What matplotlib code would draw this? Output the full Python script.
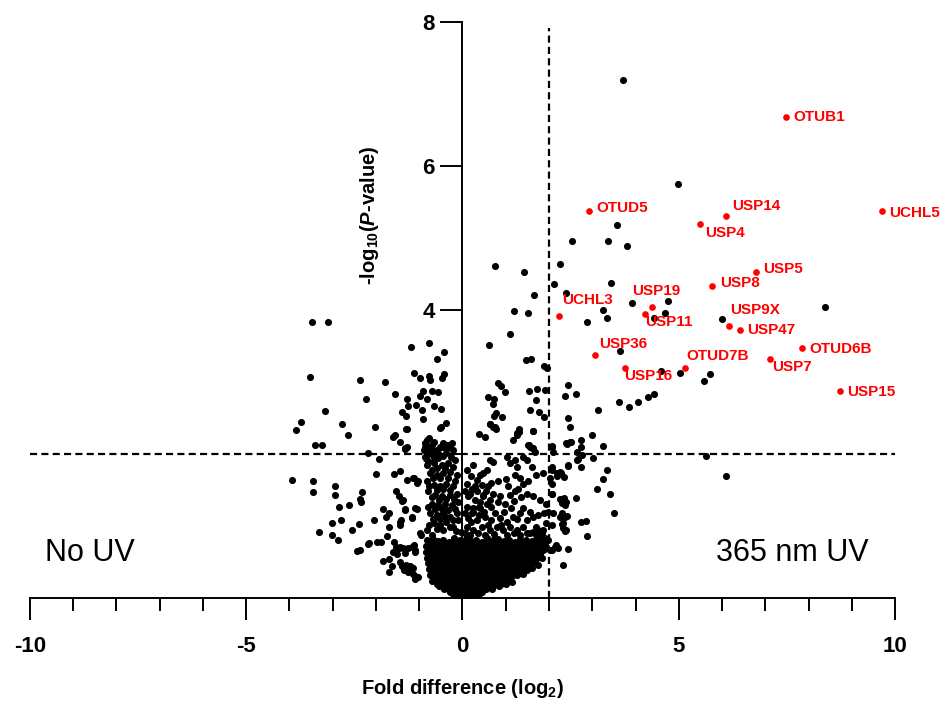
import matplotlib
matplotlib.use("Agg")
import matplotlib.pyplot as plt

plt.rcParams['font.family'] = ['Liberation Sans', 'DejaVu Sans']
plt.rcParams['axes.unicode_minus'] = False
plt.rcParams['mathtext.fontset'] = 'custom'
plt.rcParams['mathtext.rm'] = 'Liberation Sans:bold'
plt.rcParams['mathtext.bf'] = 'Liberation Sans:bold'
plt.rcParams['mathtext.it'] = 'Liberation Sans:bold:italic'

# cut-offs (log2 fold change, -log10 p)
fc_cut = 2
p_cut = 2

# labelled deubiquitinases (red)
dub_names = ['OTUB1', 'OTUD5', 'USP14', 'USP4', 'UCHL5', 'USP5', 'USP8', 'USP19',
             'USP11', 'UCHL3', 'USP9X', 'USP47', 'OTUD6B', 'USP36', 'USP7',
             'OTUD7B', 'USP16', 'USP15']
dub_fc = [7.49, 2.93, 6.09, 5.49, 9.70, 6.78, 5.77, 4.37,
          4.21, 2.24, 6.16, 6.42, 7.85, 3.07, 7.10,
          5.14, 3.76, 8.73]
dub_logp = [6.68, 5.37, 5.31, 5.20, 5.38, 4.53, 4.34, 4.04,
            3.94, 3.91, 3.78, 3.72, 3.47, 3.37, 3.32,
            3.19, 3.20, 2.87]

pts_upper = [(3.70, 7.19), (4.99, 5.75), (3.57, 5.18), (2.53, 4.96), (3.37, 4.96), (3.80, 4.89),
             (2.26, 4.64), (2.11, 4.36), (3.43, 4.37), (2.39, 4.24), (3.91, 4.10), (4.76, 4.13),
             (3.25, 4.00), (4.68, 3.96), (3.33, 3.89), (2.88, 3.84), (4.43, 3.89), (5.99, 3.87),
             (8.37, 4.04), (3.64, 3.43), (4.58, 3.15), (5.02, 3.13), (5.59, 3.01), (5.72, 3.11),
             (2.44, 2.96), (2.37, 2.80), (2.63, 2.83), (3.61, 2.72), (3.85, 2.65), (4.06, 2.72),
             (4.29, 2.79), (4.43, 2.83), (3.13, 2.61)]

pts_right = [(2.44, 2.50), (2.49, 2.38), (3.00, 2.27), (2.73, 2.20), (2.50, 2.17), (2.41, 2.14),
             (3.25, 2.11), (2.75, 2.10), (2.08, 2.11), (2.65, 2.03), (2.77, 1.98), (3.02, 1.94),
             (2.67, 1.93), (5.62, 1.97), (2.44, 1.83), (2.74, 1.82), (3.34, 1.78), (6.09, 1.69),
             (2.06, 1.78), (2.19, 1.69), (2.27, 1.73), (2.34, 1.68), (3.24, 1.65), (2.08, 1.59),
             (3.11, 1.52), (2.08, 1.44), (3.42, 1.45), (2.25, 1.37), (2.34, 1.39), (2.62, 1.39),
             (2.36, 1.29), (2.10, 1.18), (2.28, 1.14), (2.42, 1.14), (3.50, 1.18), (2.31, 1.03),
             (2.75, 1.05), (2.85, 1.07), (2.36, 0.93), (2.89, 0.86), (2.33, 0.46), (2.44, 0.68),
             (2.02, 0.67), (2.14, 0.71), (2.21, 0.69), (2.25, 1.13), (2.37, 1.13), (2.33, 0.97),
             (2.29, 1.32), (2.06, 1.82), (2.18, 1.73), (2.25, 1.75), (2.44, 1.85), (2.64, 1.92),
             (2.02, 1.66), (2.06, 1.45), (1.98, 1.20), (2.06, 1.01), (1.98, 0.81), (2.40, 2.15),
             (2.48, 2.17), (2.06, 2.10), (2.10, 2.03), (2.33, 1.38), (2.40, 1.34), (2.29, 1.18),
             (2.33, 1.04), (2.40, 0.94), (2.17, 0.74), (2.06, 0.67)]

pts_mid = [(0.75, 4.61), (1.42, 4.53), (1.66, 4.21), (1.19, 3.98), (1.51, 3.96), (1.10, 3.66),
           (0.61, 3.52), (1.47, 3.30), (1.59, 3.32), (1.88, 3.22), (1.96, 3.19), (0.83, 2.99),
           (0.88, 2.95), (0.98, 2.86), (0.58, 2.79), (0.72, 2.76), (0.71, 2.69), (0.77, 2.57),
           (0.73, 2.53), (0.92, 2.51), (1.54, 2.87), (1.73, 2.90), (1.91, 2.89), (1.71, 2.75),
           (1.56, 2.61), (1.77, 2.59), (1.88, 2.52), (0.64, 2.41), (0.71, 2.37), (0.77, 2.35),
           (0.38, 2.28), (0.51, 2.23), (1.31, 2.35), (1.27, 2.29), (1.17, 2.19), (1.63, 2.32),
           (1.53, 2.13), (1.64, 2.09), (0.63, 2.42), (0.75, 2.38), (1.25, 2.26), (1.30, 2.31),
           (1.62, 2.32), (1.52, 2.13), (1.60, 2.08), (1.67, 2.03), (1.56, 2.10),
           (0.63, 1.92), (0.71, 1.89), (0.40, 1.71), (0.33, 1.64), (0.48, 1.73), (0.56, 1.78),
           (0.83, 1.62), (1.02, 1.96), (1.10, 1.87), (1.21, 1.92), (1.25, 1.82), (1.40, 1.96),
           (1.48, 1.92), (1.60, 1.82), (1.71, 1.71), (1.87, 1.73), (1.21, 1.71), (1.33, 1.66),
           (1.40, 1.59), (1.52, 1.62), (1.29, 1.52), (1.48, 1.45), (1.63, 1.41), (1.79, 1.36),
           (1.94, 1.31), (0.87, 1.41), (0.83, 1.34), (1.06, 1.55), (1.10, 1.43), (1.21, 1.48),
           (0.60, 1.55), (0.54, 1.48), (0.48, 1.41), (0.40, 1.34), (0.37, 1.27), (0.25, 1.25),
           (0.21, 1.18), (0.63, 1.36), (0.67, 1.27), (0.75, 1.18), (0.87, 1.11), (1.02, 1.06),
           (1.17, 1.13), (1.33, 1.18), (1.48, 1.08), (1.63, 1.13), (1.71, 0.99), (1.87, 0.94),
           (1.94, 1.04), (1.75, 0.94), (1.83, 0.90), (1.91, 0.83), (1.79, 0.81),
           (0.10, 1.59), (0.21, 1.52), (0.33, 1.48), (0.44, 1.57), (0.13, 1.41), (0.29, 1.36),
           (0.48, 1.43), (0.10, 1.27), (0.25, 1.20), (0.40, 1.25), (0.56, 1.31), (0.13, 1.11),
           (0.33, 1.08), (0.52, 1.13), (0.67, 1.08), (0.10, 0.99), (0.25, 0.94), (0.44, 0.99),
           (0.63, 0.94), (0.79, 0.99), (0.94, 0.94), (1.10, 0.99), (1.25, 0.94), (1.40, 0.99),
           (1.56, 0.90), (1.71, 0.88),
           (0.05, 1.48), (0.18, 1.44), (0.05, 1.18), (0.20, 1.05), (0.38, 1.15), (0.58, 1.02),
           (0.05, 0.90), (0.17, 0.88), (0.35, 0.90), (0.52, 0.88), (0.72, 0.89), (0.88, 1.02),
           (1.02, 0.88), (1.18, 0.90), (1.33, 0.88), (1.48, 0.90), (1.63, 0.92), (1.80, 0.85),
           (0.30, 1.55), (0.50, 1.20), (0.95, 1.20), (1.12, 1.25), (1.25, 1.10), (1.40, 1.25),
           (1.55, 1.20), (1.75, 1.15), (1.88, 1.18), (0.98, 1.30), (1.20, 1.35), (1.35, 1.40),
           (0.70, 1.45), (0.65, 1.60), (1.00, 1.65), (0.20, 1.70), (0.10, 1.78), (0.25, 1.85)]

pts_left = [(-3.47, 3.83), (-3.10, 3.84), (-0.77, 3.54), (-1.19, 3.48), (-0.43, 3.41), (-0.58, 3.32),
            (-3.52, 3.07), (-2.36, 3.03), (-1.79, 3.00), (-1.12, 3.12), (-0.99, 3.06), (-0.77, 3.08),
            (-0.74, 3.03), (-0.47, 3.06), (-0.42, 3.11), (-1.56, 2.84), (-2.22, 2.77), (-1.28, 2.76),
            (-0.91, 2.88), (-0.98, 2.81), (-0.70, 2.88), (-0.56, 2.86), (-0.81, 2.76), (-1.26, 2.67),
            (-1.08, 2.68), (-1.40, 2.59), (-1.30, 2.53), (-0.94, 2.61), (-0.67, 2.66), (-0.50, 2.63),
            (-3.18, 2.60), (-0.91, 2.49), (-3.74, 2.44), (-3.85, 2.34), (-2.79, 2.41), (-2.65, 2.26),
            (-2.02, 2.37), (-1.29, 2.35), (-0.38, 2.43), (-0.51, 2.36), (-1.56, 2.27), (-1.61, 2.23),
            (-1.44, 2.16), (-1.28, 2.10), (-1.34, 2.07), (-0.78, 2.22), (-0.86, 2.15), (-0.79, 2.08),
            (-0.70, 2.05), (-0.88, 2.06), (-0.60, 2.02), (-0.44, 2.10), (-0.36, 2.13), (-3.41, 2.13),
            (-3.24, 2.12), (-2.18, 2.01), (-1.94, 1.93), (-1.30, 2.35), (-0.50, 2.37), (-1.33, 2.08),
            (-0.87, 2.10), (-0.75, 2.08), (-0.83, 1.99), (-0.67, 1.96), (-0.56, 2.01), (-0.33, 2.13),
            (-0.25, 2.15),
            (-3.94, 1.64), (-3.46, 1.62), (-3.46, 1.47), (-2.94, 1.55), (-2.94, 1.43), (-2.33, 1.47),
            (-2.38, 1.37), (-2.34, 1.33), (-2.85, 1.27), (-2.62, 1.29), (-2.82, 1.09), (-3.02, 1.04),
            (-3.32, 0.91), (-3.02, 0.88), (-2.89, 0.80), (-2.56, 0.95), (-2.40, 1.03), (-2.43, 0.65),
            (-2.37, 0.67), (-2.18, 0.75), (-2.16, 0.77), (-2.04, 1.08), (-1.99, 1.72), (-1.98, 0.78),
            (-1.89, 0.78), (-1.84, 1.23), (-1.78, 1.13), (-1.69, 1.18), (-1.70, 0.98), (-1.74, 0.86),
            (-1.59, 1.72), (-1.44, 1.76), (-1.54, 1.49), (-1.47, 1.41), (-1.39, 1.35), (-1.33, 1.23),
            (-1.43, 1.08), (-1.45, 1.01), (-1.59, 0.78), (-1.54, 0.71), (-1.46, 0.69), (-1.60, 0.64),
            (-1.51, 0.61), (-1.37, 0.69), (-1.33, 0.63), (-1.83, 0.52), (-1.71, 0.54), (-1.64, 0.44),
            (-1.69, 0.36), (-1.40, 0.45), (-1.30, 0.46), (-1.19, 0.43), (-1.35, 0.39), (-1.25, 0.36),
            (-1.15, 0.34), (-1.09, 0.26), (-1.04, 0.29), (-1.14, 0.41), (-1.16, 1.12), (-1.06, 1.24),
            (-1.14, 1.66), (-1.06, 1.60), (-0.97, 0.88), (-1.16, 0.71), (-1.10, 0.67), (-1.13, 1.66),
            (-1.02, 1.62), (-1.29, 1.64), (-1.10, 1.25), (-1.33, 1.22), (-1.17, 1.11), (-1.37, 1.36),
            (-1.44, 0.71), (-1.25, 0.69), (-1.13, 0.74), (-1.10, 0.64), (-1.37, 0.44), (-1.25, 0.37),
            (-1.10, 0.30), (-1.21, 0.44), (-1.44, 0.50), (-0.98, 0.90), (-1.44, 1.06)]

# left column next to the axis
pts_column = [(-0.83, 2.19), (-0.71, 2.13), (-0.60, 2.06), (-0.75, 2.01), (-0.87, 1.96), (-0.56, 1.94),
              (-0.44, 2.15), (-0.29, 2.13), (-0.37, 2.01), (-0.67, 1.87), (-0.83, 1.85), (-0.48, 1.85),
              (-0.33, 1.87), (-0.17, 1.92), (-0.75, 1.73), (-0.60, 1.71), (-0.44, 1.73), (-0.29, 1.75),
              (-0.13, 1.71), (-0.83, 1.62), (-0.67, 1.57), (-0.52, 1.55), (-0.37, 1.59), (-0.21, 1.55),
              (-0.79, 1.48), (-0.63, 1.43), (-0.48, 1.41), (-0.29, 1.43), (-0.13, 1.45), (-0.71, 1.31),
              (-0.56, 1.29), (-0.40, 1.31), (-0.25, 1.29), (-0.10, 1.34), (-0.75, 1.18), (-0.60, 1.15),
              (-0.44, 1.18), (-0.29, 1.13), (-0.13, 1.18), (-0.67, 1.04), (-0.52, 1.01), (-0.37, 1.06),
              (-0.21, 0.99), (-0.10, 1.08), (-0.83, 0.94), (-0.71, 0.88),
              (-0.77, 2.10), (-0.65, 2.17), (-0.52, 2.10), (-0.36, 2.08), (-0.22, 2.05), (-0.68, 1.99),
              (-0.45, 1.97), (-0.26, 1.96), (-0.79, 1.90), (-0.58, 1.80), (-0.40, 1.80), (-0.22, 1.82),
              (-0.71, 1.78), (-0.52, 1.66), (-0.33, 1.66), (-0.17, 1.62), (-0.69, 1.66), (-0.78, 1.55),
              (-0.45, 1.52), (-0.28, 1.50), (-0.60, 1.50), (-0.71, 1.40), (-0.38, 1.37), (-0.20, 1.38),
              (-0.55, 1.36), (-0.64, 1.24), (-0.48, 1.24), (-0.33, 1.22), (-0.18, 1.24), (-0.80, 1.27),
              (-0.68, 1.10), (-0.52, 1.10), (-0.37, 1.13), (-0.21, 1.08), (-0.78, 1.02), (-0.60, 0.96),
              (-0.45, 0.95), (-0.30, 0.98), (-0.15, 0.93), (-0.03, 0.92)]

# dense core close to zero
pts_core = [(-0.82, 0.80), (-0.69, 0.82), (-0.57, 0.79), (-0.44, 0.81), (-0.31, 0.78), (-0.19, 0.83),
            (-0.06, 0.80), (0.07, 0.82), (0.19, 0.79), (0.32, 0.81), (0.45, 0.78), (0.57, 0.83),
            (0.70, 0.80), (0.83, 0.82), (0.95, 0.79), (1.08, 0.81), (1.21, 0.78), (1.33, 0.82),
            (1.46, 0.80), (1.60, 0.79), (1.72, 0.82), (1.85, 0.78),
            (-0.76, 0.76), (-0.63, 0.77), (-0.50, 0.75), (-0.38, 0.76), (-0.25, 0.77), (-0.13, 0.75),
            (0.00, 0.76), (0.12, 0.77), (0.25, 0.75), (0.38, 0.76), (0.50, 0.77), (0.63, 0.75),
            (0.76, 0.76), (0.88, 0.77), (1.00, 0.75), (1.13, 0.76), (1.26, 0.77), (1.39, 0.75),
            (1.52, 0.76), (1.65, 0.77), (1.78, 0.75),
            (-0.85, 0.72), (-0.72, 0.70), (-0.60, 0.73), (-0.47, 0.71), (-0.35, 0.74), (-0.22, 0.70),
            (-0.10, 0.72), (0.03, 0.74), (0.16, 0.71), (0.28, 0.73), (0.41, 0.70), (0.53, 0.72),
            (0.66, 0.74), (0.79, 0.71), (0.91, 0.73), (1.04, 0.70), (1.16, 0.72), (1.29, 0.74),
            (1.42, 0.71), (1.54, 0.73), (1.67, 0.70), (1.80, 0.72), (1.90, 0.74),
            (-0.79, 0.68), (-0.66, 0.67), (-0.54, 0.69), (-0.41, 0.68), (-0.28, 0.67), (-0.16, 0.69),
            (-0.03, 0.68), (0.10, 0.67), (0.22, 0.69), (0.35, 0.68), (0.47, 0.67), (0.60, 0.69),
            (0.72, 0.68), (0.85, 0.67), (0.97, 0.69), (1.10, 0.68), (1.23, 0.67), (1.36, 0.69),
            (1.49, 0.68), (1.62, 0.67), (1.75, 0.69), (1.88, 0.68),
            (-0.85, 0.64), (-0.78, 0.62), (-0.66, 0.65), (-0.53, 0.63), (-0.41, 0.66), (-0.28, 0.62),
            (-0.16, 0.64), (-0.03, 0.66), (0.09, 0.63), (0.22, 0.65), (0.35, 0.62), (0.47, 0.64),
            (0.60, 0.66), (0.72, 0.63), (0.85, 0.65), (0.98, 0.62), (1.10, 0.64), (1.23, 0.66),
            (1.35, 0.63), (1.48, 0.65), (1.61, 0.62), (1.73, 0.64), (1.86, 0.66),
            (-0.76, 0.60), (-0.63, 0.59), (-0.50, 0.61), (-0.38, 0.60), (-0.25, 0.59), (-0.12, 0.61),
            (0.00, 0.60), (0.13, 0.59), (0.26, 0.61), (0.38, 0.60), (0.51, 0.59), (0.63, 0.61),
            (0.76, 0.60), (0.89, 0.59), (1.01, 0.61), (1.14, 0.60), (1.27, 0.59), (1.40, 0.61),
            (1.53, 0.60), (1.66, 0.59), (1.79, 0.61),
            (-0.82, 0.56), (-0.70, 0.54), (-0.57, 0.57), (-0.45, 0.55), (-0.32, 0.58), (-0.20, 0.54),
            (-0.07, 0.56), (0.06, 0.58), (0.18, 0.55), (0.31, 0.57), (0.43, 0.54), (0.56, 0.56),
            (0.68, 0.58), (0.81, 0.55), (0.94, 0.57), (1.06, 0.54), (1.19, 0.56), (1.31, 0.58),
            (1.44, 0.55), (1.57, 0.57), (1.70, 0.54), (1.83, 0.56),
            (-0.74, 0.52), (-0.61, 0.51), (-0.49, 0.53), (-0.36, 0.52), (-0.24, 0.51), (-0.11, 0.53),
            (0.02, 0.52), (0.14, 0.51), (0.27, 0.53), (0.40, 0.52), (0.52, 0.51), (0.65, 0.53),
            (0.77, 0.52), (0.90, 0.51), (1.03, 0.53), (1.16, 0.52), (1.29, 0.51), (1.42, 0.53),
            (1.55, 0.52), (1.68, 0.51),
            (-0.80, 0.48), (-0.67, 0.46), (-0.55, 0.49), (-0.42, 0.47), (-0.30, 0.50), (-0.17, 0.46),
            (-0.05, 0.48), (0.08, 0.50), (0.21, 0.47), (0.33, 0.49), (0.46, 0.46), (0.58, 0.48),
            (0.71, 0.50), (0.84, 0.47), (0.96, 0.49), (1.09, 0.46), (1.22, 0.48), (1.35, 0.50),
            (1.48, 0.47), (1.61, 0.49), (1.74, 0.46),
            (-0.72, 0.44), (-0.59, 0.43), (-0.47, 0.45), (-0.34, 0.44), (-0.22, 0.43), (-0.09, 0.45),
            (0.04, 0.44), (0.16, 0.43), (0.29, 0.45), (0.41, 0.44), (0.54, 0.43), (0.67, 0.45),
            (0.79, 0.44), (0.92, 0.43), (1.05, 0.45), (1.18, 0.44), (1.31, 0.43), (1.44, 0.45),
            (1.56, 0.44),
            (-0.78, 0.40), (-0.65, 0.38), (-0.53, 0.41), (-0.40, 0.39), (-0.28, 0.42), (-0.15, 0.38),
            (-0.03, 0.40), (0.10, 0.42), (0.22, 0.39), (0.35, 0.41), (0.47, 0.38), (0.60, 0.40),
            (0.73, 0.42), (0.85, 0.39), (0.98, 0.41), (1.11, 0.38), (1.23, 0.40), (1.36, 0.42),
            (1.48, 0.39), (1.60, 0.41),
            (-0.69, 0.36), (-0.56, 0.35), (-0.44, 0.37), (-0.31, 0.36), (-0.19, 0.35), (-0.06, 0.37),
            (0.07, 0.36), (0.19, 0.35), (0.32, 0.37), (0.44, 0.36), (0.57, 0.35), (0.70, 0.37),
            (0.82, 0.36), (0.95, 0.35), (1.08, 0.37), (1.20, 0.36), (1.33, 0.35),
            (-0.75, 0.32), (-0.62, 0.30), (-0.50, 0.33), (-0.37, 0.31), (-0.25, 0.34), (-0.12, 0.30),
            (0.00, 0.32), (0.13, 0.34), (0.25, 0.31), (0.38, 0.33), (0.50, 0.30), (0.63, 0.32),
            (0.76, 0.34), (0.88, 0.31), (1.01, 0.33), (1.14, 0.30), (1.27, 0.32), (1.40, 0.34),
            (-0.64, 0.28), (-0.51, 0.27), (-0.39, 0.29), (-0.26, 0.28), (-0.14, 0.27), (-0.01, 0.29),
            (0.11, 0.28), (0.24, 0.27), (0.37, 0.29), (0.49, 0.28), (0.62, 0.27), (0.74, 0.29),
            (0.87, 0.28), (0.99, 0.27), (1.10, 0.29),
            (-0.70, 0.24), (-0.57, 0.22), (-0.45, 0.25), (-0.32, 0.23), (-0.20, 0.26), (-0.07, 0.22),
            (0.05, 0.24), (0.18, 0.26), (0.30, 0.23), (0.43, 0.25), (0.55, 0.22), (0.68, 0.24),
            (0.81, 0.26), (0.93, 0.23), (1.05, 0.25), (1.15, 0.22),
            (-0.60, 0.20), (-0.48, 0.19), (-0.36, 0.21), (-0.24, 0.20), (-0.11, 0.19), (0.01, 0.21),
            (0.14, 0.20), (0.26, 0.19), (0.39, 0.21), (0.51, 0.20), (0.64, 0.19), (0.76, 0.21),
            (0.90, 0.20), (1.00, 0.19),
            (-0.55, 0.16), (-0.42, 0.15), (-0.30, 0.17), (-0.17, 0.15), (-0.05, 0.18), (0.08, 0.15),
            (0.20, 0.17), (0.33, 0.16), (0.45, 0.18), (0.58, 0.15), (0.70, 0.17), (0.85, 0.16),
            (-0.42, 0.12), (-0.30, 0.11), (-0.18, 0.13), (-0.06, 0.12), (0.06, 0.11), (0.18, 0.13),
            (0.30, 0.12), (0.42, 0.11), (0.55, 0.13), (0.68, 0.12),
            (-0.30, 0.09), (-0.18, 0.08), (-0.06, 0.10), (0.07, 0.08), (0.19, 0.10), (0.32, 0.09),
            (0.45, 0.08),
            (-0.22, 0.06), (-0.10, 0.05), (0.02, 0.06), (0.14, 0.05), (0.26, 0.06), (0.38, 0.05),
            (-0.12, 0.03), (0.00, 0.02), (0.10, 0.04), (0.18, 0.03)]

black = pts_upper + pts_right + pts_mid + pts_left + pts_column + pts_core
black_x = [p[0] for p in black]
black_y = [p[1] for p in black]

# label placement, offset from the dot in pixels (dx, dy)
label_offsets = {'OTUB1': (7, 0), 'OTUD5': (7, 3), 'USP14': (6, 10), 'USP4': (5, -9),
                 'UCHL5': (7, -2), 'USP5': (7, 3), 'USP8': (8, 3), 'USP19': (-19, 16),
                 'USP11': (1, -8), 'UCHL3': (3, 16), 'USP9X': (1, 16), 'USP47': (7, 0),
                 'OTUD6B': (7, -1), 'USP36': (4, 11), 'USP7': (3, -8), 'OTUD7B': (2, 12),
                 'USP16': (-1, -8), 'USP15': (7, -1)}

fig = plt.figure(figsize=(9.45, 7.03), dpi=100)
ax = fig.add_axes([30 / 945, 105 / 703, 865 / 945, 576 / 703])

ax.scatter(black_x, black_y, s=26, c='black', linewidths=0, zorder=3)
ax.scatter(dub_fc, dub_logp, s=23, c='#ff0000', linewidths=0, zorder=4)

for name, fc, lp in zip(dub_names, dub_fc, dub_logp):
    ax.annotate(name, (fc, lp), xytext=label_offsets[name], textcoords='offset pixels',
                ha='left', va='center', color='#ff0000', fontsize=11, fontweight='bold',
                zorder=5)

ax.axhline(p_cut, color='black', lw=1.6, ls=(0, (3.2, 1.9)), zorder=2)
ax.axvline(fc_cut, ymax=0.99, color='black', lw=1.6, ls=(0, (3.2, 1.9)), zorder=2)

ax.set_xlim(-10, 10)
ax.set_ylim(0, 8)

ax.spines['top'].set_visible(False)
ax.spines['right'].set_visible(False)
ax.spines['left'].set_position(('data', 0))
ax.spines['left'].set_bounds(0, 8)
for sp in ['left', 'bottom']:
    ax.spines[sp].set_linewidth(1.4)

ax.set_xticks([-10, -5, 0, 5, 10])
ax.set_xticks(range(-10, 11), minor=True)
ax.set_yticks([2, 4, 6, 8])
ax.tick_params(axis='x', which='major', length=16, width=1.4, pad=11, labelsize=16)
ax.tick_params(axis='x', which='minor', length=9.5, width=1.4)
ax.tick_params(axis='y', which='major', length=16, width=1.4, pad=4, labelsize=16)
for lab in ax.get_xticklabels() + ax.get_yticklabels():
    lab.set_fontweight('bold')

ax.set_xlabel('Fold difference (log$_2$)', fontsize=14.5, fontweight='bold', labelpad=15)
ax.set_ylabel('-log$_{10}$($\\mathit{P}$-value)', fontsize=14.5, fontweight='bold')
ax.yaxis.set_label_coords(0.393, 0.665)
ax.yaxis.label.set_va('center')

ax.text(-9.65, 0.63, 'No UV', fontsize=22, ha='left', va='center')
ax.text(9.38, 0.63, '365 nm UV', fontsize=22, ha='right', va='center')

fig.savefig('out.png', dpi=100)
